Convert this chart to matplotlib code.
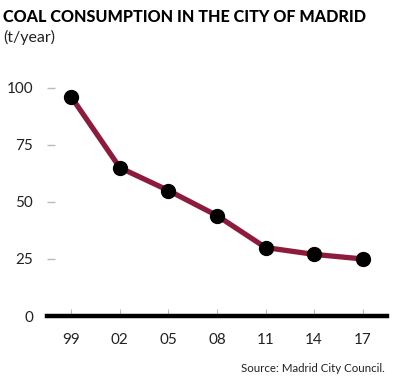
import matplotlib.pyplot as plt

plt.rcParams['font.family'] = ['Lato', 'DejaVu Sans']

# data
years = ['99', '02', '05', '08', '11', '14', '17']
coal = [96, 65, 55, 44, 30, 27, 25]
yticks = [0, 25, 50, 75, 100]

fig = plt.figure(figsize=(3.93, 3.81), dpi=100)
# axes box in pixels: left 47, right 387, bottom 316, top ~65
W, H = 393, 381
ax = fig.add_axes([47 / W, (H - 316) / H, (387 - 47) / W, (316 - 65) / H])

x = list(range(len(years)))
ax.plot(x, coal, color='#8c1b3c', linewidth=3.8, zorder=2, solid_capstyle='butt')
ax.scatter(x, coal, s=100, color='black', zorder=3)

ax.set_xlim(-0.5, 6.5)
ax.set_ylim(0, 110)
ax.set_xticks(x)
ax.set_xticklabels(years)
ax.set_yticks(yticks)

for s in ['top', 'right', 'left']:
    ax.spines[s].set_visible(False)
ax.spines['bottom'].set_linewidth(3.2)
ax.spines['bottom'].set_color('black')
ax.spines['bottom'].set_zorder(4)

ax.tick_params(axis='x', direction='in', length=5, width=0.8, color='#bbbbbb',
               labelsize=11, pad=12, labelcolor='#222222')
ax.tick_params(axis='y', direction='in', length=6, width=1, color='#bbbbbb',
               labelsize=11, pad=10, labelcolor='#222222')

fig.text(3 / W, 1 - 17 / H, 'COAL CONSUMPTION IN THE CITY OF MADRID',
         fontsize=11.6, fontweight='black', va='center', ha='left', color='black')
fig.text(3 / W, 1 - 37 / H, '(t/year)', fontsize=11.5, va='center', ha='left',
         color='#222222')
fig.text(385 / W, 1 - 368 / H, 'Source: Madrid City Council.', fontsize=8.3,
         va='center', ha='right', color='#222222')

fig.savefig('out.png', dpi=100)
